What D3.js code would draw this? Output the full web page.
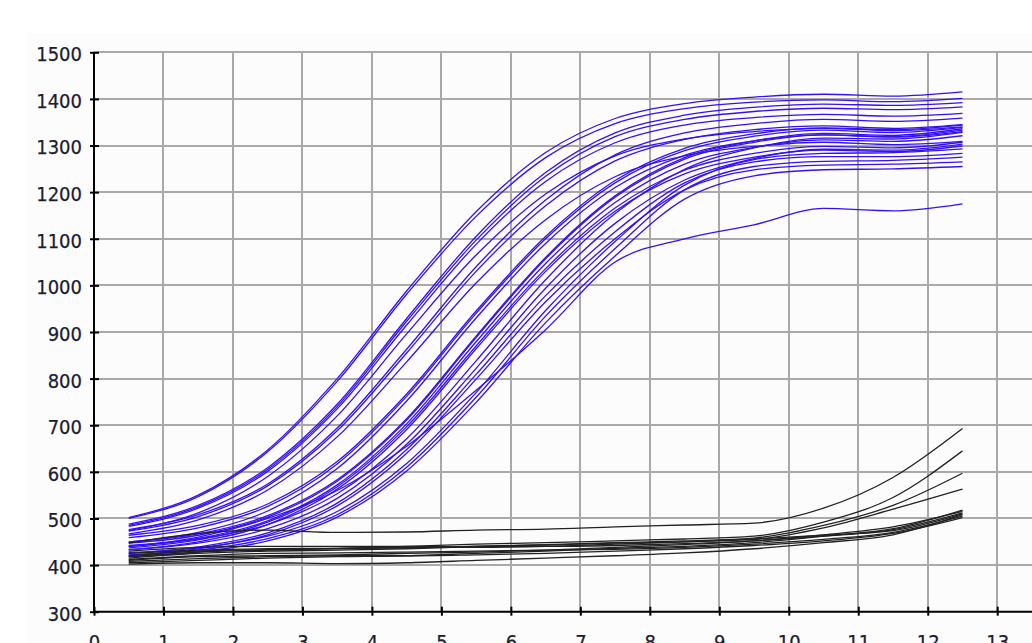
<!DOCTYPE html>
<html>
<head>
<meta charset="utf-8">
<script src="https://cdn.jsdelivr.net/npm/d3@7/dist/d3.min.js"></script>
<style>
  html, body { margin: 0; padding: 0; background: #fff; overflow: hidden; }
  svg { display: block; }
  .axis text { font-family: "DejaVu Sans Condensed", "DejaVu Sans", sans-serif; font-size: 20px; fill: #1c1c30; stroke: #1c1c30; stroke-width: 0.25px; }
</style>
</head>
<body>
<svg id="chart" width="1032" height="643"></svg>
<script>
// cycle positions of every reading
const cycles = [0.5, 1.5, 2.5, 3.5, 4.5, 5.5, 6.5, 7.5, 8.5, 9.5, 10.5, 11.5, 12.5];

// tick labels
const xTicks = [0, 1, 2, 3, 4, 5, 6, 7, 8, 9, 10, 11, 12, 13, 14];
const yTicks = [300, 400, 500, 600, 700, 800, 900, 1000, 1100, 1200, 1300, 1400, 1500];

// blue curves, early group
const blueEarly = [
  [502, 550, 647, 800, 988, 1158, 1285, 1358, 1390, 1404, 1410, 1406, 1415],
  [500, 547, 643, 794, 981, 1148, 1274, 1347, 1379, 1393, 1398, 1394, 1401],
  [488, 528, 609, 745, 929, 1105, 1242, 1327, 1365, 1382, 1389, 1386, 1392],
  [485, 525, 605, 740, 923, 1097, 1234, 1319, 1356, 1373, 1380, 1377, 1383],
  [483, 522, 601, 735, 915, 1088, 1223, 1306, 1344, 1360, 1367, 1363, 1369],
  [476, 508, 574, 694, 863, 1040, 1183, 1280, 1327, 1347, 1356, 1352, 1359],
  [473, 504, 570, 688, 855, 1030, 1171, 1267, 1313, 1334, 1342, 1337, 1345],
  [474, 512, 590, 720, 896, 1065, 1196, 1278, 1314, 1330, 1337, 1332, 1340],
  [467, 497, 561, 675, 836, 1005, 1141, 1233, 1278, 1298, 1307, 1302, 1309]
];

// blue curves, late group
const blueLate = [
  [464, 485, 531, 622, 767, 945, 1105, 1225, 1294, 1325, 1338, 1334, 1344],
  [459, 480, 526, 617, 762, 940, 1100, 1220, 1289, 1320, 1333, 1328, 1339],
  [450, 467, 506, 583, 714, 891, 1060, 1192, 1274, 1310, 1326, 1322, 1336],
  [447, 464, 503, 580, 711, 888, 1057, 1189, 1271, 1307, 1323, 1319, 1333],
  [449, 470, 516, 607, 752, 930, 1090, 1210, 1279, 1310, 1323, 1318, 1330],
  [442, 456, 487, 553, 671, 838, 1012, 1154, 1249, 1295, 1316, 1314, 1328],
  [440, 457, 495, 572, 703, 879, 1047, 1178, 1260, 1296, 1312, 1309, 1321],
  [437, 454, 492, 568, 697, 870, 1036, 1166, 1247, 1283, 1298, 1295, 1307],
  [433, 447, 478, 543, 659, 822, 994, 1133, 1226, 1272, 1292, 1290, 1303],
  [433, 450, 487, 563, 691, 864, 1030, 1159, 1239, 1275, 1290, 1287, 1299],
  [427, 437, 462, 515, 618, 770, 946, 1094, 1215, 1270, 1283, 1285, 1293],
  [425, 439, 469, 533, 648, 809, 978, 1115, 1220, 1265, 1276, 1276, 1283],
  [422, 432, 457, 508, 610, 760, 934, 1079, 1205, 1255, 1266, 1268, 1275],
  [421, 435, 465, 527, 640, 799, 965, 1100, 1205, 1248, 1258, 1260, 1265],
  [418, 428, 452, 503, 602, 749, 920, 1063, 1185, 1235, 1248, 1250, 1255],
  [440, 460, 500, 560, 655, 775, 905, 1050, 1100, 1130, 1165, 1160, 1175]
];

// black (flat) curves
const blackSeries = [
  [447, 468, 475, 470, 471, 475, 477, 482, 486, 490, 522, 588, 693],
  [418, 428, 432, 436, 440, 445, 448, 452, 456, 462, 492, 545, 645],
  [415, 425, 430, 432, 435, 440, 444, 448, 452, 458, 485, 528, 597],
  [420, 430, 433, 435, 437, 440, 443, 447, 450, 455, 480, 520, 563],
  [405, 410, 415, 418, 420, 425, 430, 436, 440, 448, 462, 478, 518],
  [410, 418, 420, 422, 425, 428, 432, 438, 444, 452, 465, 482, 515],
  [425, 432, 435, 436, 438, 440, 440, 442, 446, 452, 462, 476, 512],
  [402, 405, 405, 403, 405, 410, 415, 420, 426, 435, 448, 465, 508],
  [412, 420, 425, 426, 428, 430, 432, 434, 438, 445, 455, 470, 505],
  [408, 414, 418, 420, 420, 422, 425, 430, 435, 442, 452, 468, 502],
  [430, 438, 440, 440, 440, 438, 440, 445, 450, 456, 464, 474, 510]
];

const W = 1032, H = 643;
const svg = d3.select("#chart");

var x = d3.scaleLinear().domain([0, 14]).range([94, 1066.7]);
var y = d3.scaleLinear().domain([300, 1500]).range([611.7, 52.3]);

// faint panel behind the plot
svg.append("rect")
  .attr("x", 27).attr("y", 33)
  .attr("width", W - 27).attr("height", H - 33)
  .attr("fill", "#fcfcfc");

// grid
var grid = svg.append("g").attr("shape-rendering", "crispEdges");
grid.selectAll("line.v").data(xTicks.filter(d => d > 0)).enter()
  .append("line").attr("class", "v")
  .attr("x1", d => x(d)).attr("x2", d => x(d))
  .attr("y1", y(1500)).attr("y2", y(300))
  .attr("stroke", "#a9a9a9").attr("stroke-width", 2);
grid.selectAll("line.h").data(yTicks.filter(d => d > 300)).enter()
  .append("line").attr("class", "h")
  .attr("x1", x(0)).attr("x2", W)
  .attr("y1", d => y(d)).attr("y2", d => y(d))
  .attr("stroke", "#a9a9a9").attr("stroke-width", 2);

// curves
var line = d3.line()
  .x((d, i) => x(cycles[i]))
  .y(d => y(d))
  .curve(d3.curveMonotoneX);

svg.append("g").selectAll("path")
  .data(blueEarly.concat(blueLate)).enter()
  .append("path")
  .attr("d", line)
  .attr("fill", "none")
  .attr("stroke", "#3410f4")
  .attr("stroke-width", 1.3);

svg.append("g").selectAll("path")
  .data(blackSeries).enter()
  .append("path")
  .attr("d", line)
  .attr("fill", "none")
  .attr("stroke", "#222")
  .attr("stroke-width", 1.3);

// axes
var yAxis = svg.append("g").attr("class", "axis")
  .attr("transform", "translate(" + x(0) + ",0)")
  .call(d3.axisLeft(y).tickValues(yTicks).tickFormat(d3.format("d"))
    .tickSize(4).tickPadding(8).tickSizeOuter(0));
var xAxis = svg.append("g").attr("class", "axis")
  .attr("transform", "translate(0," + y(300) + ")")
  .call(d3.axisBottom(x).tickValues(xTicks).tickFormat(d3.format("d"))
    .tickSize(4).tickPadding(19).tickSizeOuter(0));

yAxis.selectAll(".tick line").attr("x1", 5).attr("x2", -4);
xAxis.selectAll(".tick line").attr("y1", -5).attr("y2", 4);
svg.selectAll(".axis .tick line").attr("stroke", "#000").attr("stroke-width", 2);
svg.selectAll(".axis .domain").attr("stroke", "#000").attr("stroke-width", 2);
yAxis.select(".domain").attr("d", "M0," + y(1500) + "V" + y(300));
xAxis.select(".domain").attr("d", "M" + x(0) + ",0H" + W);
yAxis.selectAll(".tick text").attr("dy", "0.42em");
</script>
</body>
</html>
